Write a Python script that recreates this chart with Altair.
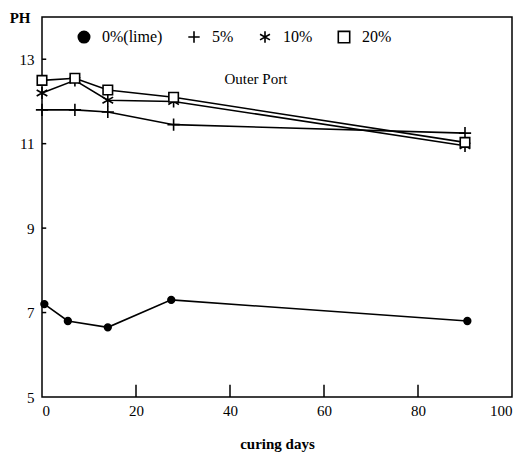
import altair as alt
import pandas as pd

series_names = ["0%(lime)", "5%", "10%", "20%"]
days_lime = [0.5, 5.5, 14, 27.5, 90.5]
days_other = [0, 7, 14, 28, 90]
ph_lime = [7.2, 6.8, 6.65, 7.3, 6.8]
ph_5 = [11.8, 11.8, 11.75, 11.45, 11.25]
ph_10 = [12.2, 12.5, 12.03, 12.0, 10.95]
ph_20 = [12.5, 12.55, 12.27, 12.1, 11.03]

x_tick_vals = [20, 40, 60, 80]
y_tick_vals = [7, 9, 11, 13]

rows = []
for d, v in zip(days_lime, ph_lime):
    rows.append({"series": series_names[0], "day": d, "ph": v})
for name, vals in zip(series_names[1:], [ph_5, ph_10, ph_20]):
    for d, v in zip(days_other, vals):
        rows.append({"series": name, "day": d, "ph": v})
df = pd.DataFrame(rows)

FONT = "Liberation Serif"
xscale = alt.Scale(domain=[0, 100], nice=False)
yscale = alt.Scale(domain=[5, 14], nice=False)

XAXIS = alt.Axis(values=[0, 20, 40, 60, 80, 100], ticks=False, grid=False,
                 domain=False, title="curing days", labelFontSize=15,
                 labelPadding=6, titleFontSize=15, titleFontWeight="bold",
                 titlePadding=18, labelFont=FONT, titleFont=FONT)
YAXIS = alt.Axis(values=[5, 7, 9, 11, 13], ticks=False, grid=False,
                 domain=False, title="PH", titleAngle=0, titleX=-12, titleY=0,
                 titleAlign="right", titleBaseline="middle",
                 titleFontSize=15, titleFontWeight="bold",
                 labelFontSize=15, labelPadding=8, labelFont=FONT, titleFont=FONT)

shape_paths = [
    "circle",
    "M-1,0L1,0M0,-1L0,1",
    "M0,-1L0,1M-0.87,-0.5L0.87,0.5M-0.87,0.5L0.87,-0.5",
    "square",
]
marker_sizes = {"0%(lime)": 45, "5%": 150, "10%": 150, "20%": 90}

base = alt.Chart(df)

lines = base.mark_line(color="black", strokeWidth=1.6).encode(
    x=alt.X("day:Q", scale=xscale, axis=XAXIS),
    y=alt.Y("ph:Q", scale=yscale, axis=YAXIS),
    detail="series:N",
)

legend = alt.Legend(orient="none", legendX=34, legendY=12, direction="horizontal",
                    columns=4, title=None, labelFont=FONT, labelFontSize=16,
                    symbolStrokeColor="black", symbolStrokeWidth=1.6, symbolOpacity=1,
                    symbolSize=130, columnPadding=22, labelOffset=10)

point_layers = []
for name in series_names:
    point_layers.append(
        base.transform_filter(alt.datum.series == name).mark_point(
            strokeWidth=1.6, opacity=1, size=marker_sizes[name]
        ).encode(
            x=alt.X("day:Q", scale=xscale, axis=XAXIS),
            y=alt.Y("ph:Q", scale=yscale, axis=YAXIS),
            shape=alt.Shape("series:N",
                            scale=alt.Scale(domain=series_names, range=shape_paths),
                            legend=legend),
            fill=alt.Fill("series:N",
                          scale=alt.Scale(domain=series_names,
                                          range=["black", "white", "white", "white"]),
                          legend=legend),
            stroke=alt.Stroke("series:N",
                              scale=alt.Scale(domain=series_names,
                                              range=["black", "black", "black", "black"]),
                              legend=legend),
        )
    )

xt = pd.DataFrame({"day": x_tick_vals, "y0": [5] * 4, "y1": [5.29] * 4})
xticks = alt.Chart(xt).mark_rule(color="black", strokeWidth=1.5).encode(
    x=alt.X("day:Q", scale=xscale, axis=XAXIS),
    y=alt.Y("y0:Q", scale=yscale, axis=YAXIS), y2="y1:Q")

yt = pd.DataFrame({"ph": y_tick_vals, "x0": [0] * 4, "x1": [0.9] * 4})
yticks = alt.Chart(yt).mark_rule(color="black", strokeWidth=1.5).encode(
    y=alt.Y("ph:Q", scale=yscale, axis=YAXIS),
    x=alt.X("x0:Q", scale=xscale, axis=XAXIS), x2="x1:Q")

ann = pd.DataFrame({"day": [45.5], "ph": [12.52], "label": ["Outer Port"]})
text = alt.Chart(ann).mark_text(font=FONT, fontSize=15, color="black").encode(
    x=alt.X("day:Q", scale=xscale, axis=XAXIS),
    y=alt.Y("ph:Q", scale=yscale, axis=YAXIS), text="label:N")

chart = alt.layer(lines, *point_layers, xticks, yticks, text).properties(
    width=470, height=380,
    autosize=alt.AutoSizeParams(type="none"),
    padding={"left": 42, "top": 17, "right": 2, "bottom": 57},
).configure_view(
    stroke="black", strokeWidth=1.5
)

chart.save("out.html", embed_options={"renderer": "svg", "actions": False})
